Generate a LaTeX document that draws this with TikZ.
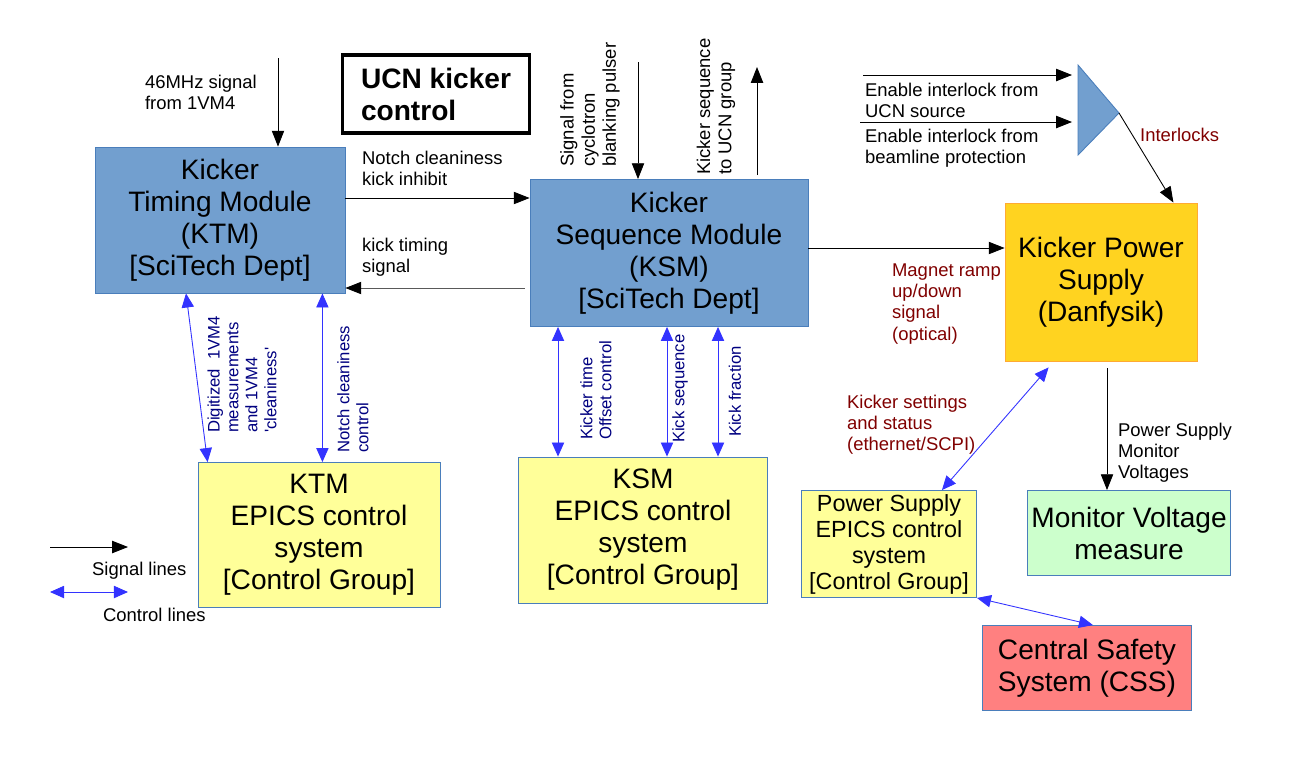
\documentclass[tikz,border=0pt]{standalone}
\usepackage{fontspec}
\setmainfont{Liberation Sans}
\usetikzlibrary{arrows.meta,positioning,calc}
\definecolor{cblockblue}{HTML}{729FCF}
\definecolor{cedge}{HTML}{4A7EBB}
\definecolor{cpsu}{HTML}{FFD320}
\definecolor{cpsuedge}{HTML}{FFAA33}
\definecolor{cepics}{HTML}{FFFF99}
\definecolor{cmonitor}{HTML}{CCFFCC}
\definecolor{csafety}{HTML}{FF8080}
\definecolor{cdarkred}{HTML}{800000}
\definecolor{cnavy}{HTML}{000080}
\definecolor{ccontrol}{HTML}{3333FF}
\newcommand{\kbfont}{\fontsize{16}{18.2}\selectfont}
\newcommand{\klfont}{\fontsize{10.5}{12}\selectfont}
\newcommand{\krfont}{\fontsize{9.5}{10.8}\selectfont}

\begin{document}
\begin{tikzpicture}[
    x=0.02cm, y=-0.02cm,
    blockbox/.style={
        fill=#1, draw=cedge, line width=0.5pt,
        align=center, text=black, font=\kbfont, inner sep=2pt,
    },
    sig/.style={-{Triangle[length=9pt,width=7pt,black]},line width=0.5pt,black},
    ctl/.style={{Triangle[length=8pt,width=7pt]}-{Triangle[length=8pt,width=7pt]},
        line width=0.5pt,ccontrol},
    sigtext/.style={font=\klfont,align=left,inner sep=1pt,anchor=west},
    redtext/.style={sigtext,text=cdarkred},
    ctltext/.style={font=\krfont,align=left,inner sep=1pt,text=cnavy,
        rotate=90,anchor=west},
    toptext/.style={sigtext,rotate=90},
]

\useasboundingbox (0,0) rectangle (1300,765);

% ============================================================
% TITLE
% ============================================================
\node[draw=black, line width=1.8pt, minimum width=3.74cm, minimum height=1.56cm,
    align=left, font=\bfseries\kbfont] (title) at (436,94) {UCN kicker\\control};

% ============================================================
% SCITECH MODULES
% ============================================================
\node[blockbox=cblockblue, minimum width=5cm, minimum height=2.92cm] (ktm)
    at (220,220) {Kicker\\Timing Module\\(KTM)\\{[SciTech Dept]}};

\node[blockbox=cblockblue, minimum width=5.56cm, minimum height=2.94cm] (ksm)
    at (669,253) {Kicker\\Sequence Module\\(KSM)\\{[SciTech Dept]}};

\node[blockbox=cpsu, draw=cpsuedge, minimum width=3.84cm, minimum height=3.16cm] (kps)
    at (1101,282) {Kicker Power\\Supply\\(Danfysik)};

% ============================================================
% EPICS / CONTROL GROUP
% ============================================================
\node[blockbox=cepics, minimum width=4.84cm, minimum height=2.9cm] (ktmepics)
    at (319,535) {KTM\\EPICS control\\system\\{[Control Group]}};

\node[blockbox=cepics, minimum width=4.98cm, minimum height=2.92cm] (ksmepics)
    at (643,530) {KSM\\EPICS control\\system\\{[Control Group]}};

\node[blockbox=cepics, minimum width=3.5cm, minimum height=2.14cm,
    font=\fontsize{13.3}{14.8}\selectfont] (psepics)
    at (889,544) {Power Supply\\EPICS control\\system\\{[Control Group]}};

\node[blockbox=cmonitor, minimum width=4.06cm, minimum height=1.7cm] (monitor)
    at (1129,533) {Monitor Voltage\\measure};

\node[blockbox=csafety, minimum width=4.18cm, minimum height=1.7cm] (css)
    at (1087,668) {Central Safety\\System (CSS)};

% ============================================================
% INTERLOCK GATE
% ============================================================
\coordinate (gatetop) at (1078,65);
\coordinate (gatebot) at (1078,155);
\coordinate (gatetip) at (1119,113);
\draw[fill=cblockblue, draw=cedge, line width=0.5pt]
    (gatetop) -- (gatebot) -- (gatetip) -- cycle;

% ============================================================
% SIGNAL LINES
% ============================================================
\coordinate (mhzin) at (278,58);
\draw[sig] (mhzin) -- (mhzin |- ktm.north);
\node[sigtext] (lblmhz) at (143,92) {46MHz signal\\from 1VM4};

\coordinate (inhibit) at ([yshift=0.44cm]ktm.east);
\draw[sig] (inhibit) -- (inhibit -| ksm.west);
\node[sigtext] (lblinhibit) at (360,168) {Notch cleaniness\\kick inhibit};

\coordinate (kicktime) at ([shift={(-5,35)}]ksm.west);
\draw[sig, black!65] (kicktime) -- (kicktime -| ktm.east);
\node[sigtext] (lblkicktime) at (360,257) {kick timing\\signal};

\coordinate (blanking) at (638,62);
\draw[sig] (blanking) -- (blanking |- ksm.north);
\node[toptext] (lblblanking) at (590,169) {Signal from\\cyclotron\\blanking pulser};

\coordinate (ucnbase) at (757,175);
\coordinate (ucnout) at (757,67);
\draw[sig] (ucnbase) -- (ucnout);
\node[toptext] (lblucn) at (716,177) {Kicker sequence\\to UCN group};

\coordinate (ramp) at ([yshift=0.1cm]ksm.east);
\draw[sig] (ramp) -- (ramp -| kps.west);
\node[redtext] (lblramp) at (890,304) {Magnet ramp\\up/down\\signal\\(optical)};

% interlock inputs
\coordinate (ucnsrc) at (863,75);
\draw[sig] (ucnsrc) -- ([xshift=-0.12cm]gatetop |- ucnsrc);
\node[sigtext] (lblucnsrc) at (863,100) {Enable interlock from\\UCN source};

\coordinate (beamprot) at (860,122);
\draw[sig] (beamprot) -- ([xshift=-0.12cm]gatetop |- beamprot);
\node[sigtext] (lblbeamprot) at (863,148) {Enable interlock from\\beamline protection};

\draw[sig] (gatetip) -- ([xshift=-0.48cm]kps.north east);
\node[redtext] (lblinterlocks) at (1138,135) {Interlocks};

\coordinate (psmon) at ([shift={(6,7)}]kps.south);
\draw[sig] (psmon) -- (psmon |- monitor.north);
\node[sigtext] (lblpsmon) at (1116,453) {Power Supply\\Monitor\\Voltages};

% ============================================================
% CONTROL LINES
% ============================================================
\draw[ctl] ([xshift=-0.68cm]ktm.south) -- ([xshift=0.2cm]ktmepics.north west);
\node[ctltext] (lbldigitized) at (242,435)
    {Digitized\ \ 1VM4\\measurements\\and 1VM4\\\textquotesingle cleaniness\textquotesingle};

\coordinate (notchctl) at ([xshift=-0.46cm]ktm.south east);
\draw[ctl] (notchctl) -- (notchctl |- ktmepics.north);
\node[ctltext] (lblnotchctl) at (353,455) {Notch cleaniness\\control};

\foreach \dx in {-111,-2,49}{
    \coordinate (ksmctl) at ([shift={(\dx,0)}]ksm.south);
    \draw[ctl] (ksmctl) -- (ksmctl |- ksmepics.north);
}
\node[ctltext] (lbloffset) at (596,442) {Kicker time\\Offset control};
\node[ctltext] (lblkickseq) at (680,445) {Kick sequence};
\node[ctltext] (lblkickfrac) at (735,439) {Kick fraction};

\draw[ctl] ([shift={(44,6)}]kps.south west) -- ([xshift=-0.7cm]psepics.north east);
\node[redtext] (lblsettings) at (845,425) {Kicker settings\\and status\\(ethernet/SCPI)};

\draw[ctl] (psepics.south east) -- ([xshift=0.12cm]css.north);

% ============================================================
% LEGEND
% ============================================================
\coordinate (legsig) at (50,547);
\draw[sig] (legsig) -- ++(78,0);
\node[sigtext] (lblsiglines) at (90,571) {Signal lines};

\coordinate (legctl) at (50,592);
\draw[ctl] (legctl) -- ++(78,0);
\node[sigtext] (lblctllines) at (101,615) {Control lines};

\end{tikzpicture}
\end{document}
